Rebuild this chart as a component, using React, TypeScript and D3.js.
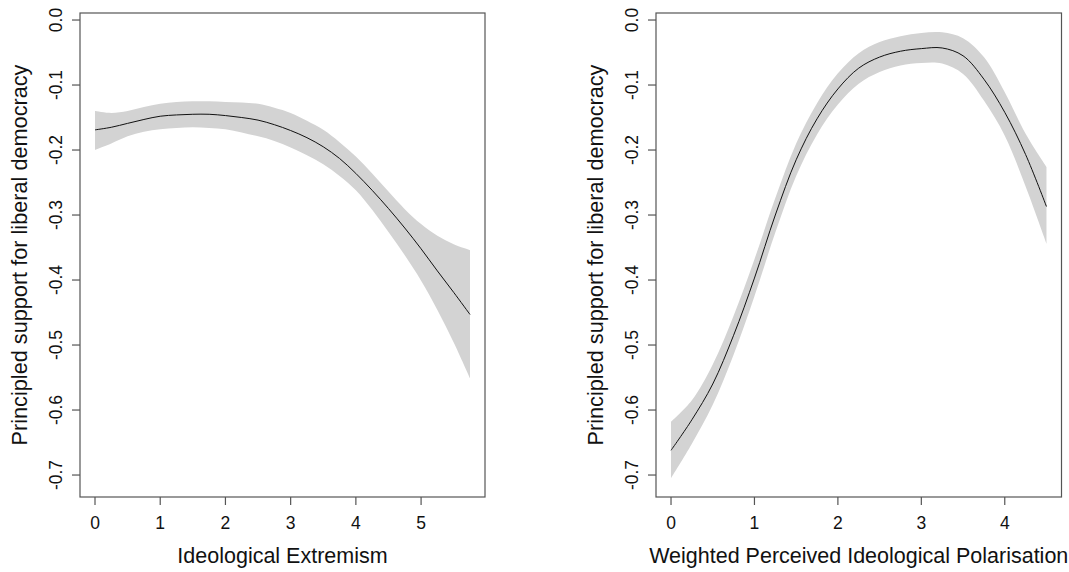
import * as d3 from 'd3';
import React from 'react';

// left panel: ideological extremism
const extremismX = [0, 0.25, 0.5, 0.75, 1, 1.25, 1.5, 1.75, 2, 2.25, 2.5, 2.75, 3, 3.25, 3.5, 3.75, 4, 4.25, 4.5, 4.75, 5, 5.25, 5.5, 5.75];
const extremismFit = [-0.169, -0.165, -0.159, -0.153, -0.148, -0.146, -0.145, -0.145, -0.147, -0.150, -0.154, -0.161, -0.170, -0.181, -0.195, -0.213, -0.236, -0.262, -0.290, -0.320, -0.352, -0.386, -0.419, -0.453];
const extremismLo = [-0.200, -0.190, -0.179, -0.172, -0.168, -0.166, -0.165, -0.166, -0.168, -0.173, -0.179, -0.186, -0.196, -0.208, -0.222, -0.240, -0.262, -0.292, -0.326, -0.362, -0.401, -0.446, -0.496, -0.551];
const extremismHi = [-0.140, -0.143, -0.140, -0.134, -0.129, -0.126, -0.125, -0.125, -0.126, -0.127, -0.129, -0.135, -0.143, -0.155, -0.169, -0.188, -0.210, -0.236, -0.264, -0.291, -0.314, -0.332, -0.345, -0.354];

// right panel: weighted perceived ideological polarisation
const polarX = [0, 0.25, 0.5, 0.75, 1, 1.25, 1.5, 1.75, 2, 2.25, 2.5, 2.75, 3, 3.25, 3.5, 3.75, 4, 4.25, 4.5];
const polarFit = [-0.662, -0.615, -0.560, -0.485, -0.397, -0.300, -0.215, -0.152, -0.106, -0.074, -0.057, -0.048, -0.044, -0.043, -0.055, -0.091, -0.142, -0.207, -0.287];
const polarLo = [-0.705, -0.652, -0.592, -0.515, -0.425, -0.327, -0.240, -0.176, -0.130, -0.098, -0.080, -0.070, -0.066, -0.067, -0.083, -0.124, -0.178, -0.256, -0.344];
const polarHi = [-0.618, -0.585, -0.530, -0.455, -0.368, -0.274, -0.190, -0.128, -0.082, -0.051, -0.034, -0.025, -0.020, -0.019, -0.028, -0.057, -0.111, -0.175, -0.226];

const yTicks = [0, -0.1, -0.2, -0.3, -0.4, -0.5, -0.6, -0.7];
const yTitle = 'Principled support for liberal democracy';

const FONT = '"Liberation Sans", Arial, sans-serif';
const AXIS = '#555';
const TEXT = '#111';

type PanelProps = {
  xs: number[];
  fit: number[];
  lo: number[];
  hi: number[];
  xDomain: [number, number];
  xTicks: number[];
  left: number;
  right: number;
  xTitle: string;
};

function Panel({ xs, fit, lo, hi, xDomain, xTicks, left, right, xTitle }: PanelProps) {
  const top = 13;
  const bottom = 497;
  const x = d3.scaleLinear().domain(xDomain).range([left, right]);
  const y = d3.scaleLinear().domain([-0.7338, 0.0108]).range([bottom, top]);

  const idx = xs.map((_, i) => i);
  const band = d3
    .area<number>()
    .x((i) => x(xs[i]))
    .y0((i) => y(lo[i]))
    .y1((i) => y(hi[i]))
    .curve(d3.curveCatmullRom.alpha(0.5));
  const line = d3
    .line<number>()
    .x((i) => x(xs[i]))
    .y((i) => y(fit[i]))
    .curve(d3.curveCatmullRom.alpha(0.5));

  return (
    <g>
      <path d={band(idx) ?? ''} fill="#d3d3d3" stroke="none" />
      <path d={line(idx) ?? ''} fill="none" stroke="#111" strokeWidth={1} />
      <rect x={left} y={top} width={right - left} height={bottom - top} fill="none" stroke={AXIS} strokeWidth={1.2} />
      {xTicks.map((t) => (
        <g key={'x' + t}>
          <line x1={x(t)} x2={x(t)} y1={bottom} y2={bottom + 8} stroke={AXIS} strokeWidth={1.2} />
          <text x={x(t)} y={bottom + 32} textAnchor="middle" fontSize={17.5} fill={TEXT}>
            {t}
          </text>
        </g>
      ))}
      {yTicks.map((t) => (
        <g key={'y' + t}>
          <line x1={left - 8} x2={left} y1={y(t)} y2={y(t)} stroke={AXIS} strokeWidth={1.2} />
          <text transform={`translate(${left - 18.5},${y(t)}) rotate(-90)`} textAnchor="middle" fontSize={17.5} fill={TEXT}>
            {t.toFixed(1)}
          </text>
        </g>
      ))}
      <text x={(left + right) / 2} y={563} textAnchor="middle" fontSize={21.5} fill={TEXT}>
        {xTitle}
      </text>
      <text transform={`translate(${left - 53},${(top + bottom) / 2}) rotate(-90)`} textAnchor="middle" fontSize={21.7} fill={TEXT}>
        {yTitle}
      </text>
    </g>
  );
}

export default function App() {
  return (
    <svg
      width={1069}
      height={572}
      style={{ position: 'absolute', left: 0, top: 0, background: '#fff', fontFamily: FONT }}
    >
      <rect width={1069} height={572} fill="#fff" />
      <Panel
        xs={extremismX}
        fit={extremismFit}
        lo={extremismLo}
        hi={extremismHi}
        xDomain={[-0.23, 5.98]}
        xTicks={[0, 1, 2, 3, 4, 5]}
        left={80}
        right={485}
        xTitle="Ideological Extremism"
      />
      <Panel
        xs={polarX}
        fit={polarFit}
        lo={polarLo}
        hi={polarHi}
        xDomain={[-0.18, 4.68]}
        xTicks={[0, 1, 2, 3, 4]}
        left={656}
        right={1061.5}
        xTitle="Weighted Perceived Ideological Polarisation"
      />
    </svg>
  );
}
